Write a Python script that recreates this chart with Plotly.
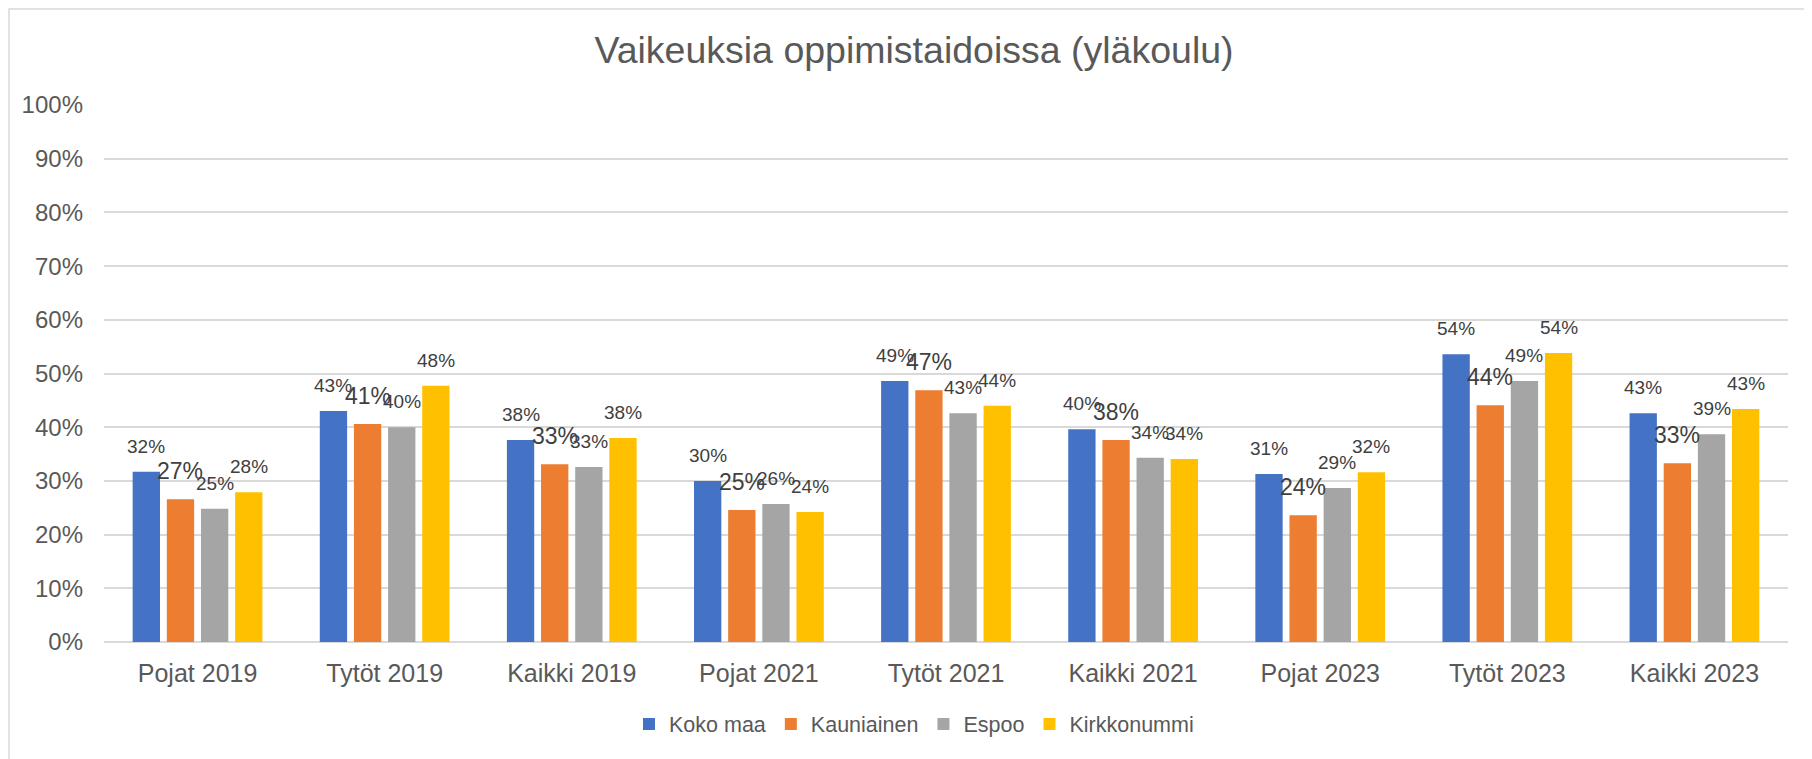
import plotly.graph_objects as go

categories = ["Pojat 2019", "Tytöt 2019", "Kaikki 2019", "Pojat 2021", "Tytöt 2021",
              "Kaikki 2021", "Pojat 2023", "Tytöt 2023", "Kaikki 2023"]
series_names = ["Koko maa", "Kauniainen", "Espoo", "Kirkkonummi"]
koko_maa = [31.7, 43.0, 37.6, 30.0, 48.6, 39.6, 31.3, 53.6, 42.6]
kauniainen = [26.6, 40.6, 33.1, 24.6, 46.9, 37.6, 23.6, 44.1, 33.3]
espoo = [24.8, 40.0, 32.6, 25.7, 42.6, 34.3, 28.7, 48.6, 38.7]
kirkkonummi = [27.9, 47.7, 38.0, 24.2, 44.0, 34.1, 31.6, 53.8, 43.4]
y_ticks = [0, 10, 20, 30, 40, 50, 60, 70, 80, 90, 100]

series_values = [koko_maa, kauniainen, espoo, kirkkonummi]
colors = ["#4472C4", "#ED7D31", "#A5A5A5", "#FFC000"]
label_sizes = [19, 23, 19, 19]

BARGAP = 0.27
BARGROUPGAP = 0.2
FONT = "Liberation Sans, Arial, sans-serif"

W, H = 1812, 759
ML, MR, MT, MB = 96, 32, 97, 125
PW, PH = W - ML - MR, H - MT - MB

fig = go.Figure()
for name, vals, col in zip(series_names, series_values, colors):
    fig.add_trace(go.Bar(
        name=name, x=categories, y=vals,
        marker=dict(color=col, line=dict(width=0)),
        hoverinfo="x+y+name",
    ))

annotations = []
n = len(series_names)
slot = (1 - BARGAP) / n
for i, vals in enumerate(series_values):
    for j, v in enumerate(vals):
        annotations.append(dict(
            x=j + (i - (n - 1) / 2) * slot, y=v, xref="x", yref="y",
            text=f"{v:.0f}%", showarrow=False, yanchor="bottom", xanchor="center",
            yshift=13, font=dict(family=FONT, size=label_sizes[i], color="#404040"),
        ))

fig.update_layout(
    width=W, height=H,
    paper_bgcolor="white", plot_bgcolor="white",
    margin=dict(l=ML, r=MR, t=MT, b=MB),
    barmode="group", bargap=BARGAP, bargroupgap=BARGROUPGAP,
    font=dict(family=FONT, color="#595959"),
    title=dict(text="Vaikeuksia oppimistaidoissa (yläkoulu)",
               x=0.5, xref="container", xanchor="center",
               y=1 - 42 / H, yref="container", yanchor="middle",
               font=dict(size=37.5, color="#595959", family=FONT)),
    legend=dict(orientation="h", x=0.5, xref="container", xanchor="center",
                y=1 - 716 / H, yref="container", yanchor="middle",
                font=dict(size=21.5, color="#595959", family=FONT),
                itemwidth=30, traceorder="normal", bgcolor="rgba(0,0,0,0)"),
    annotations=annotations,
    xaxis=dict(type="category", showgrid=False, zeroline=False, showline=False,
               ticks="", tickfont=dict(size=25, color="#595959"), ticklabelstandoff=14,
               fixedrange=True),
    yaxis=dict(range=[0, 100], tickvals=y_ticks, ticktext=[f"{t}%" for t in y_ticks],
               showgrid=True, gridcolor="#D9D9D9", gridwidth=1.5,
               zeroline=True, zerolinecolor="#D9D9D9", zerolinewidth=1.5,
               showline=False, ticks="", tickfont=dict(size=24, color="#595959"),
               ticklabelstandoff=20, fixedrange=True),
    shapes=[dict(type="rect", xref="paper", yref="paper",
                 x0=(1 - ML) / PW, x1=(W + 40 - ML) / PW,
                 y0=-(MB + 40) / PH, y1=1 + (MT - 1) / PH,
                 line=dict(color="#D9D9D9", width=1.5), layer="below")],
)

fig.write_html("out.html")
